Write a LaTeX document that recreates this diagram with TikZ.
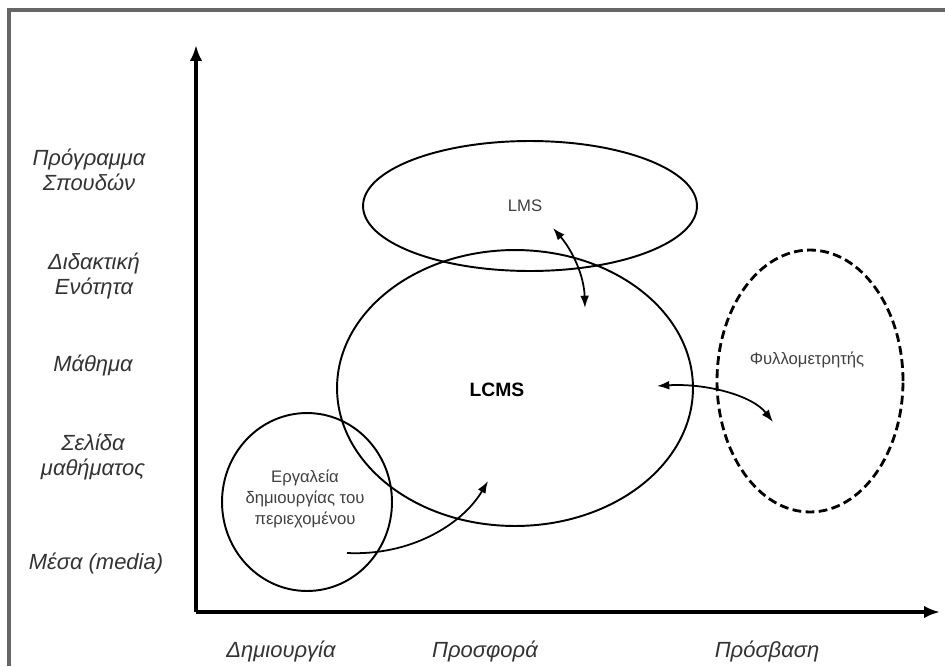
\documentclass[tikz,border=0pt]{standalone}
\usepackage{fontspec}
\setmainfont{Liberation Sans}
\usetikzlibrary{arrows.meta,shapes.geometric}

\tikzset{
	axislabel/.style={font=\fontsize{12.5}{14}\selectfont\itshape, text=black!80, align=center},
	smalllabel/.style={font=\fontsize{9.5}{12}\selectfont, text=black!75, align=center},
	zone/.style={draw, ellipse, line width=1.1pt, inner sep=0pt},
	link/.style={line width=1pt, {Latex[length=7pt,width=5pt]}-{Latex[length=7pt,width=5pt]}},
}

\begin{document}
\begin{tikzpicture}[x=0.02cm,y=-0.02cm]
	
	\useasboundingbox (0,0) rectangle (945,666);
	
	%frame
	\draw[black!60, line width=1.8pt] (9,666)--(9,10)--(945,10);
	
	%axes
	\coordinate (O) at (196,612);
	\coordinate (T) at (196,45);
	\coordinate (R) at (940,612);
	\draw[line width=1.8pt,-{Latex[length=9pt,width=7pt]}] (O)--(T);
	\draw[line width=1.8pt,-{Latex[length=9pt,width=7pt]}] (O)--(R);
	
	%vertical captions
	\node[axislabel] (prog) at (89,170) {Πρόγραμμα\\Σπουδών};
	\node[axislabel] (enot) at (94,276) {Διδακτική\\Ενότητα};
	\node[axislabel] (math) at (93,365) {Μάθημα};
	\node[axislabel] (sel)  at (93,457) {Σελίδα\\μαθήματος};
	\node[axislabel] (mesa) at (96,563) {Μέσα (media)};
	
	%horizontal captions
	\node[axislabel] (dim)  at (281,651) {Δημιουργία};
	\node[axislabel] (pros) at (485,651) {Προσφορά};
	\node[axislabel] (prsv) at (767,651) {Πρόσβαση};
	
	%zones
	\node[zone, minimum width=6.68cm, minimum height=2.6cm] (lms) at (530,206) {};
	\node[smalllabel] (lmst) at (525,206) {LMS};
	\node[zone, minimum width=7.12cm, minimum height=5.52cm] (lcms) at (515,388) {};
	\node[font=\fontsize{11}{13}\selectfont\bfseries] (lcmst) at (497,390) {LCMS};
	\node[zone, minimum width=3.4cm, minimum height=3.56cm] (tools) at (307,502) {};
	\node[smalllabel] (toolst) at (305,499) {Εργαλεία\\δημιουργίας του\\περιεχομένου};
	\node[zone, dashed, dash pattern=on 5pt off 2.5pt, line width=1.6pt,
		minimum width=3.72cm, minimum height=5.24cm] (brow) at (810,381) {};
	\node[smalllabel] (browt) at (807,360) {Φυλλομετρητής};
	
	%arrow ends
	\coordinate (lmsA) at (553,228);
	\coordinate (lmsB) at (585,308);
	\coordinate (brA) at (657,386);
	\coordinate (brB) at (773,422);
	\coordinate (toA) at (347,553);
	\coordinate (toB) at (488,481);
	
	%arrows
	\draw[link] (lmsA) .. controls (572,250) and (584,275) .. (lmsB);
	\draw[link] (brA) .. controls (705,383) and (752,395) .. (brB);
	\draw[line width=1pt,-{Latex[length=7pt,width=5pt]}] (toA) .. controls (410,556) and (462,525) .. (toB);
	
\end{tikzpicture}
\end{document}
